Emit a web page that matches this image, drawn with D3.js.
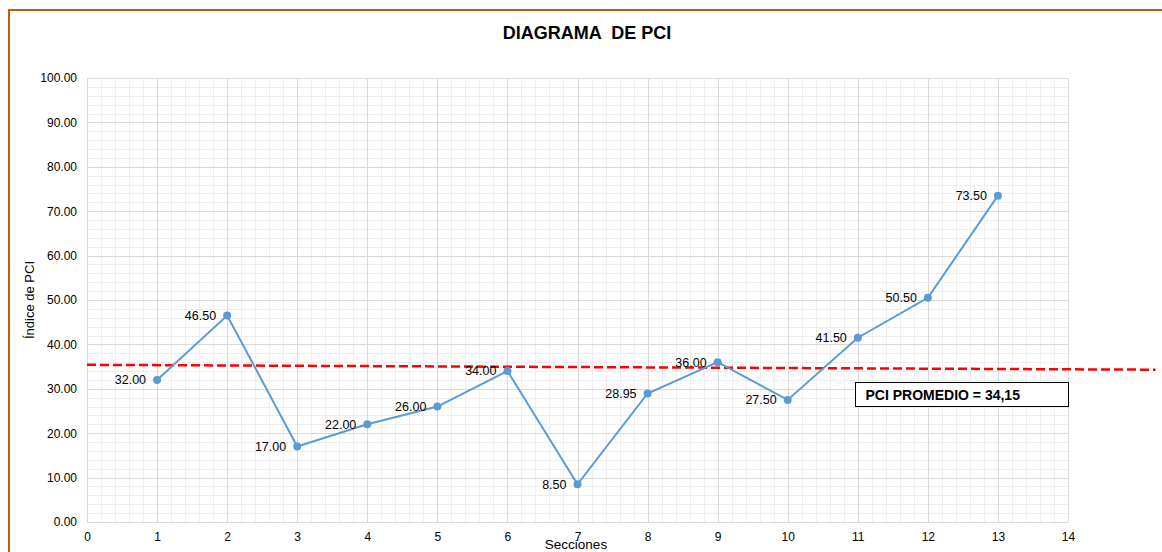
<!DOCTYPE html>
<meta charset="utf-8">
<style>
body { margin: 0; background: #fff; }
text { font-family: "Liberation Sans", Arial, sans-serif; fill: #000; }
.tick text { font-size: 12px; }
.axis path, .axis line { display: none; }
.grid-major line { stroke: #d9d9d9; stroke-width: 1; }
.grid-minor line { stroke: #eeeeee; stroke-width: 1; }
.serie { fill: none; stroke: #5b9bd5; stroke-width: 2; }
.punto { fill: #5b9bd5; }
.etiqueta { font-size: 12.5px; }
.titulo { font-size: 18px; font-weight: bold; white-space: pre; }
</style>
<svg width="1162" height="552"></svg>
<script src="https://d3js.org/d3.v7.min.js"></script>
<script>

var secciones = [1, 2, 3, 4, 5, 6, 7, 8, 9, 10, 11, 12, 13];
var pci = [32.00, 46.50, 17.00, 22.00, 26.00, 34.00, 8.50, 28.95, 36.00, 27.50, 41.50, 50.50, 73.50];
var lineaPromedioX = [0, 15.25];
var lineaPromedioY = [35.4, 34.3];
var textoPromedio = "PCI PROMEDIO = 34,15";
var xTicks = d3.range(0, 15);
var yTicks = d3.range(0, 101, 10);

var svg = d3.select("svg"),
    margin = {top: 78, right: 94, bottom: 30, left: 87},
    width = +svg.attr("width") - margin.left - margin.right,
    height = +svg.attr("height") - margin.top - margin.bottom;

// marco naranja
svg.append("path")
    .attr("d", "M9,560 V10 H1170")
    .attr("fill", "none")
    .attr("stroke", "#c55a11")
    .attr("stroke-width", 2);

var x = d3.scaleLinear().domain([0, 14]).range([0, width]),
    y = d3.scaleLinear().domain([0, 100]).range([height, 0]);

var g = svg.append("g")
    .attr("transform", "translate(" + margin.left + "," + margin.top + ")");

// rejilla menor
g.append("g")
    .attr("class", "grid-minor")
    .selectAll("line")
    .data(d3.range(0, 14.01, 0.2))
    .enter().append("line")
      .attr("x1", function(d) { return Math.round(x(d)) + 0.5; })
      .attr("x2", function(d) { return Math.round(x(d)) + 0.5; })
      .attr("y1", 0).attr("y2", height);

g.append("g")
    .attr("class", "grid-minor")
    .selectAll("line")
    .data(d3.range(0, 100.01, 2))
    .enter().append("line")
      .attr("y1", function(d) { return Math.round(y(d)) + 0.5; })
      .attr("y2", function(d) { return Math.round(y(d)) + 0.5; })
      .attr("x1", 0).attr("x2", width);

// rejilla mayor
g.append("g")
    .attr("class", "grid-major")
    .selectAll("line")
    .data(xTicks)
    .enter().append("line")
      .attr("x1", function(d) { return Math.round(x(d)) + 0.5; })
      .attr("x2", function(d) { return Math.round(x(d)) + 0.5; })
      .attr("y1", 0).attr("y2", height);

g.append("g")
    .attr("class", "grid-major")
    .selectAll("line")
    .data(yTicks)
    .enter().append("line")
      .attr("y1", function(d) { return Math.round(y(d)) + 0.5; })
      .attr("y2", function(d) { return Math.round(y(d)) + 0.5; })
      .attr("x1", 0).attr("x2", width);

// ejes
g.append("g")
    .attr("class", "axis")
    .attr("transform", "translate(0," + height + ")")
    .call(d3.axisBottom(x).tickValues(xTicks).tickSize(0).tickPadding(10).tickFormat(d3.format("d")));

g.append("g")
    .attr("class", "axis")
    .call(d3.axisLeft(y).tickValues(yTicks).tickSize(0).tickPadding(10).tickFormat(d3.format(".2f")));

// linea promedio
g.append("line")
    .attr("x1", x(lineaPromedioX[0]))
    .attr("x2", x(lineaPromedioX[1]))
    .attr("y1", y(lineaPromedioY[0]))
    .attr("y2", y(lineaPromedioY[1]))
    .attr("stroke", "#ff0000")
    .attr("stroke-width", 2.5)
    .attr("stroke-dasharray", "9,4");

var datos = secciones.map(function(s, i) { return {s: s, v: pci[i]}; });

g.append("path")
    .datum(datos)
    .attr("class", "serie")
    .attr("d", d3.line()
      .x(function(d) { return x(d.s); })
      .y(function(d) { return y(d.v); }));

g.selectAll(".punto")
    .data(datos)
    .enter().append("circle")
      .attr("class", "punto")
      .attr("cx", function(d) { return x(d.s); })
      .attr("cy", function(d) { return y(d.v); })
      .attr("r", 4);

g.selectAll(".etiqueta")
    .data(datos)
    .enter().append("text")
      .attr("class", "etiqueta")
      .attr("x", function(d) { return x(d.s) - 11; })
      .attr("y", function(d) { return y(d.v); })
      .attr("dy", "0.35em")
      .attr("text-anchor", "end")
      .text(function(d) { return d.v.toFixed(2); });

// cuadro promedio
var caja = g.append("g")
    .attr("transform", "translate(" + (Math.round(x(10.96)) + 0.5) + "," + (Math.round(y(31.6)) + 0.5) + ")");
caja.append("rect")
    .attr("width", Math.round(x(14) - x(10.96)))
    .attr("height", 24)
    .attr("fill", "#fff")
    .attr("stroke", "#000")
    .attr("stroke-width", 1);
caja.append("text")
    .attr("x", 10)
    .attr("y", 17.5)
    .style("font-size", "14px")
    .style("font-weight", "bold")
    .text(textoPromedio);

// titulos
svg.append("text")
    .attr("class", "titulo")
    .attr("x", 587)
    .attr("y", 39)
    .attr("text-anchor", "middle")
    .text("DIAGRAMA  DE PCI");

svg.append("text")
    .attr("x", 576)
    .attr("y", 549)
    .attr("text-anchor", "middle")
    .style("font-size", "13.5px")
    .text("Secciones");

svg.append("text")
    .attr("transform", "translate(34," + (margin.top + height / 2) + ") rotate(-90)")
    .attr("text-anchor", "middle")
    .style("font-size", "13px")
    .text("Índice de PCI");

</script>
